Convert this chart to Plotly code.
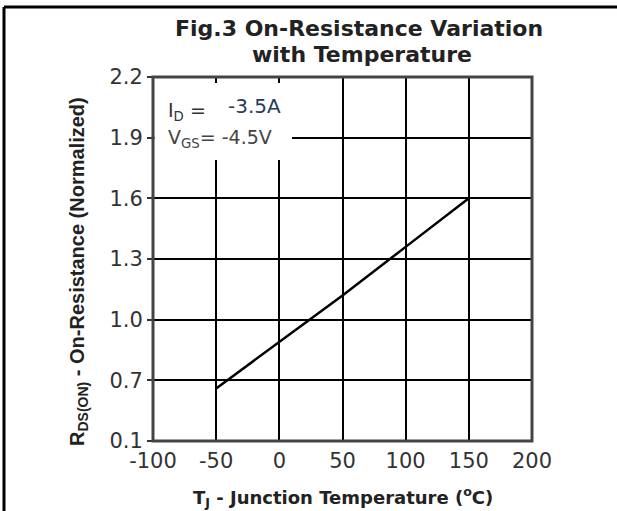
import plotly.graph_objects as go

# ---- data ----
temps = [-50, 0, 50, 100, 150]
rds_norm = [0.66, 0.89, 1.12, 1.36, 1.6]
x_tick_vals = [-100, -50, 0, 50, 100, 150, 200]
x_tick_text = ["-100", "-50", "0", "50", "100", "150", "200"]
y_tick_vals = [0.4, 0.7, 1.0, 1.3, 1.6, 1.9, 2.2]
y_tick_text = ["0.1", "0.7", "1.0", "1.3", "1.6", "1.9", "2.2"]

W, H = 617, 511
# plot area in window px
L, R, T, B = 153, 532, 77, 441


def px(x):
    return (x - L) / (R - L)


def py(y):
    return (B - y) / (B - T)


fig = go.Figure()
fig.add_trace(go.Scatter(x=temps, y=rds_norm, mode="lines",
                         line=dict(color="black", width=2.5),
                         showlegend=False, hoverinfo="skip"))

font = "DejaVu Sans, sans-serif"
font2 = "Liberation Sans, Arial, sans-serif"

fig.update_layout(
    width=W, height=H,
    margin=dict(l=L, r=W - R, t=T, b=H - B, pad=0),
    paper_bgcolor="white", plot_bgcolor="white",
    font=dict(family=font, color="#222"),
    xaxis=dict(range=[-100, 200], tickvals=x_tick_vals, ticktext=x_tick_text,
               showgrid=True, gridcolor="black", gridwidth=2,
               zeroline=False, showline=False, ticks="",
               tickfont=dict(size=21, color="#333"), ticklabelstandoff=5),
    yaxis=dict(range=[0.4, 2.2], tickvals=y_tick_vals, ticktext=y_tick_text,
               showgrid=True, gridcolor="black", gridwidth=2,
               zeroline=False, showline=False, ticks="outside", ticklen=5,
               tickwidth=2, tickcolor="#333", ticklabelstandoff=0,
               tickfont=dict(size=21, color="#333")),
)

shapes = []
# white mask behind legend text (gridlines interrupted there)
shapes.append(dict(type="rect", xref="paper", yref="paper",
                   x0=px(154.5), x1=px(292), y0=py(160), y1=py(83),
                   fillcolor="white", line=dict(width=0), layer="above"))
# plot border
shapes.append(dict(type="rect", xref="paper", yref="paper", x0=0, x1=1, y0=0, y1=1,
                   line=dict(color="#444", width=3), layer="above"))
# outer frame (top and left edges)
shapes.append(dict(type="line", xref="paper", yref="paper",
                   x0=px(4), x1=px(640), y0=py(7), y1=py(7),
                   line=dict(color="black", width=3)))
shapes.append(dict(type="line", xref="paper", yref="paper",
                   x0=px(4), x1=px(4), y0=py(7), y1=py(540),
                   line=dict(color="black", width=3)))
fig.update_layout(shapes=shapes)

ann = []
ann.append(dict(text="<b>Fig.3 On-Resistance Variation</b>", x=px(359), y=py(28),
                xref="paper", yref="paper", showarrow=False,
                font=dict(family=font, size=22, color="#222"), xanchor="center", yanchor="middle"))
ann.append(dict(text="<b>with Temperature</b>", x=px(362), y=py(54),
                xref="paper", yref="paper", showarrow=False,
                font=dict(family=font, size=22, color="#222"), xanchor="center", yanchor="middle"))
ann.append(dict(text="I<sub>D</sub> =", x=px(166), y=py(111),
                xref="paper", yref="paper", showarrow=False,
                font=dict(family=font, size=19, color="#333"), xanchor="left", yanchor="middle"))
ann.append(dict(text="-3.5A", x=px(226), y=py(106),
                xref="paper", yref="paper", showarrow=False,
                font=dict(family=font, size=20, color="#2a3a5a"), xanchor="left", yanchor="middle"))
ann.append(dict(text="V<sub>GS</sub>= -4.5V", x=px(166), y=py(138),
                xref="paper", yref="paper", showarrow=False,
                font=dict(family=font, size=19, color="#444"), xanchor="left", yanchor="middle"))
ann.append(dict(text="<b>T<sub>J</sub> - Junction Temperature (<sup>o</sup>C)</b>",
                x=px(343), y=py(497), xref="paper", yref="paper", showarrow=False,
                font=dict(family=font, size=18, color="#222"), xanchor="center", yanchor="middle"))
ann.append(dict(text="<b>R<sub>DS(ON)</sub> - On-Resistance (Normalized)</b>",
                x=px(78), y=py(272), xref="paper", yref="paper", showarrow=False,
                textangle=-90,
                font=dict(family=font2, size=20, color="#222"), xanchor="center", yanchor="middle"))
fig.update_layout(annotations=ann)

fig.write_html("out.html", config={"displayModeBar": False},
               post_script="document.body.style.margin='0';document.body.style.overflow='hidden';")
